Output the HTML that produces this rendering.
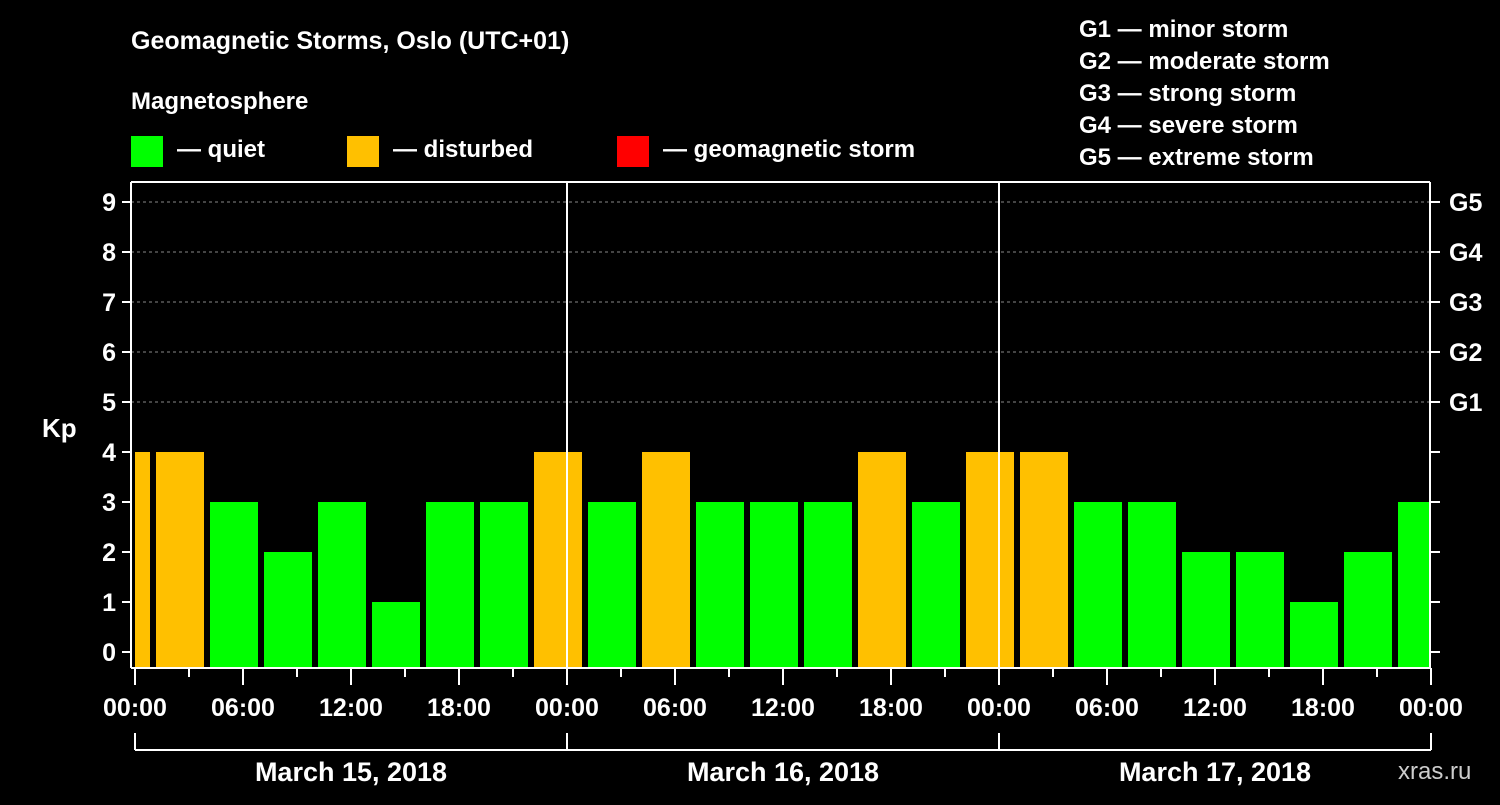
<!DOCTYPE html>
<html><head><meta charset="utf-8"><style>
body{margin:0;background:#000;width:1500px;height:800px;overflow:hidden}
text{font-family:"Liberation Sans",sans-serif;font-weight:bold;fill:#fff}
</style></head><body>
<svg width="1500" height="800">
<text x="131" y="49" font-size="25">Geomagnetic Storms, Oslo (UTC+01)</text>
<text x="131" y="109" font-size="24">Magnetosphere</text>
<rect x="131" y="136" width="32" height="31" fill="#00ff00"/>
<text x="177" y="157" font-size="24">— quiet</text>
<rect x="347" y="136" width="32" height="31" fill="#ffc000"/>
<text x="393" y="157" font-size="24">— disturbed</text>
<rect x="617" y="136" width="32" height="31" fill="#ff0000"/>
<text x="663" y="157" font-size="24">— geomagnetic storm</text>
<g font-size="24">
<text x="1079" y="37">G1 — minor storm</text>
<text x="1079" y="69">G2 — moderate storm</text>
<text x="1079" y="101">G3 — strong storm</text>
<text x="1079" y="133">G4 — severe storm</text>
<text x="1079" y="165">G5 — extreme storm</text>
</g>
<text x="42" y="437" font-size="26">Kp</text>
<text x="1398" y="779" font-size="24" fill="#ccc" style="fill:#ccc;font-weight:normal">xras.ru</text>
<g id="plot"></g>
</svg>
<script>
const kpValues=[4,4,3,2,3,1,3,3,4,3,4,3,3,3,4,3,4,4,3,3,2,2,1,2,3];
const yTicks=[0,1,2,3,4,5,6,7,8,9];
const gLabels=["G1","G2","G3","G4","G5"];
const timeLabels=["00:00","06:00","12:00","18:00","00:00","06:00","12:00","18:00","00:00","06:00","12:00","18:00","00:00"];
const dayLabels=["March 15, 2018","March 16, 2018","March 17, 2018"];
const X0=135,PXH=18,Y0=652,PXK=50,LEFT=131,RIGHT=1430,TOP=182,BOT=668;
const xs=h=>X0+h*PXH, ys=k=>Y0-k*PXK;
const g=document.getElementById('plot'),NS='http://www.w3.org/2000/svg';
function mk(t,a){const e=document.createElementNS(NS,t);for(const k in a)e.setAttribute(k,a[k]);g.appendChild(e);return e;}
yTicks.forEach(k=>{
 if(k>=5){const l=mk('line',{x1:LEFT,x2:RIGHT,y1:ys(k),y2:ys(k),stroke:'#888','stroke-dasharray':'3,3'});
 
 }
});
kpValues.forEach((v,i)=>{
 let s=xs(-2+3*i)+3,e=xs(1+3*i)-3;
 s=Math.max(s,LEFT+4);e=Math.min(e,RIGHT);
 const r=mk('rect',{x:s,y:ys(v),width:e-s,height:BOT-ys(v),fill:v>=5?'#ff0000':(v>=4?'#ffc000':'#00ff00')});
 
 
});
const st={stroke:'#fff','stroke-width':2};
[[LEFT,TOP,LEFT,BOT],[LEFT,BOT,RIGHT,BOT],[LEFT,TOP,RIGHT,TOP],[RIGHT,TOP,RIGHT,BOT],[xs(24),TOP,xs(24),BOT],[xs(48),TOP,xs(48),BOT]].forEach(c=>{
 const l=mk('line',Object.assign({x1:c[0],y1:c[1],x2:c[2],y2:c[3]},st));
 
 
});
yTicks.forEach(k=>{
 mk('line',Object.assign({x1:122,x2:LEFT,y1:ys(k),y2:ys(k)},st));
 mk('line',Object.assign({x1:RIGHT,x2:RIGHT+10,y1:ys(k),y2:ys(k)},st));
 const t=mk('text',{x:116,y:ys(k)+9,'font-size':25,'text-anchor':'end'});t.textContent=k;
 
 
 if(k>=5){const r=mk('text',{x:1449,y:ys(k)+9,'font-size':25});r.textContent=gLabels[k-5];
 
 }
});
for(let h=0;h<=72;h+=3){mk('line',Object.assign({x1:xs(h),x2:xs(h),y1:BOT,y2:h%6==0?685:677},st));}
timeLabels.forEach((s,i)=>{const t=mk('text',{x:xs(i*6),y:716,'font-size':25,'text-anchor':'middle'});t.textContent=s;
 
 });
for(let d=0;d<=3;d++)mk('line',Object.assign({x1:xs(24*d),x2:xs(24*d),y1:733,y2:750},st));
mk('line',Object.assign({x1:xs(0),x2:xs(72),y1:750,y2:750},st));
dayLabels.forEach((s,i)=>{const t=mk('text',{x:xs(24*i+12),y:781,'font-size':27,'text-anchor':'middle'});t.textContent=s;
 
 });
</script>
</body></html>
